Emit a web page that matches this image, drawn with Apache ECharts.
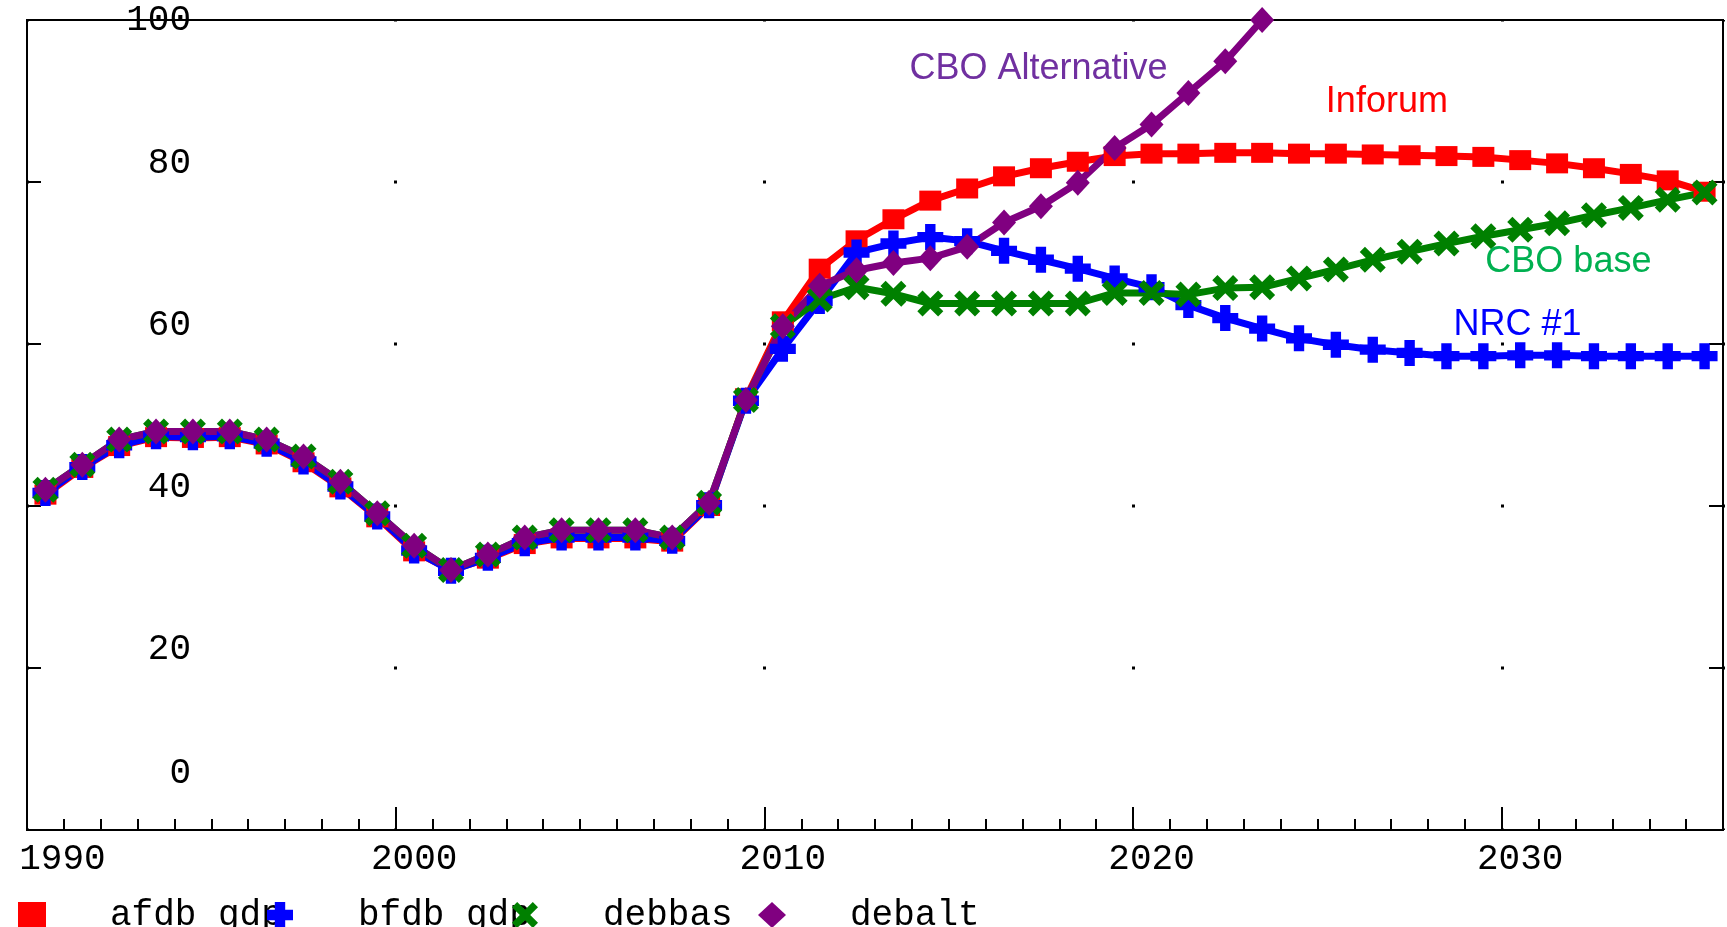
<!DOCTYPE html>
<html>
<head>
<meta charset="utf-8">
<script src="https://cdn.jsdelivr.net/npm/echarts@6/dist/echarts.min.js"></script>
<style>
html,body{margin:0;padding:0;background:#fff;}
#chart{width:1727px;height:927px;}
</style>
</head>
<body>
<div id="chart"></div>
<script>
// ---- data ----
const years = [1990,1991,1992,1993,1994,1995,1996,1997,1998,1999,
               2000,2001,2002,2003,2004,2005,2006,2007,2008,2009,
               2010,2011,2012,2013,2014,2015,2016,2017,2018,2019,
               2020,2021,2022,2023,2024,2025,2026,2027,2028,2029,
               2030,2031,2032,2033,2034,2035];
const yTicks = [0, 20, 40, 60, 80, 100];
const xLabelYears = [1990, 2000, 2010, 2020, 2030];

const afdb_gdp = [41.4,44.7,47.4,48.5,48.4,48.5,47.6,45.4,42.3,38.6,
                  34.4,32.1,33.5,35.3,36.0,36.0,36.0,35.6,40.0,53.3,
                  62.8,69.3,72.8,75.4,77.7,79.2,80.7,81.7,82.5,83.2,
                  83.5,83.5,83.6,83.6,83.5,83.5,83.4,83.3,83.2,83.1,
                  82.7,82.3,81.7,81.0,80.2,78.8];
const bfdb_gdp = [41.6,44.8,47.5,48.6,48.5,48.6,47.7,45.5,42.4,38.7,
                  34.5,32.0,33.6,35.4,36.1,36.1,36.1,35.7,40.1,53.0,
                  59.4,65.3,71.3,72.4,73.2,72.7,71.5,70.4,69.3,68.1,
                  67.0,64.8,63.2,61.9,60.7,59.9,59.3,58.9,58.5,58.5,
                  58.6,58.6,58.5,58.5,58.5,58.5];
const debbas   = [42.0,45.1,48.2,49.2,49.2,49.2,48.2,46.1,43.0,39.1,
                  35.1,32.1,34.0,36.1,37.0,37.0,37.0,36.1,40.4,53.1,
                  62.2,65.5,67.0,66.2,65.0,65.0,65.0,65.0,65.0,66.3,
                  66.3,66.1,66.9,67.0,68.1,69.2,70.4,71.4,72.4,73.3,
                  74.1,74.9,75.9,76.8,77.8,78.7];
const debalt   = [42.0,45.1,48.2,49.2,49.2,49.2,48.2,46.1,43.0,39.1,
                  35.1,32.1,34.0,36.1,37.0,37.0,37.0,36.1,40.4,53.1,
                  62.2,67.2,69.1,70.0,70.6,72.0,75.0,77.0,79.9,84.2,
                  87.1,91.0,94.9,100.0,null,null,null,null,null,null,
                  null,null,null,null,null,null];

const seriesNames = ['afdb_gdp', 'bfdb_gdp', 'debbas', 'debalt'];
const annotationTexts = ['Inforum', 'NRC #1', 'CBO base', 'CBO Alternative'];
const annotationYears = ['2025', '2028', '2029', '2013'];
const annotationValues = [89.9, 62.3, 70.1, 93.95];

// ---- styling ----
const MONO = '"Liberation Mono", "DejaVu Sans Mono", monospace';
const SANS = '"Liberation Sans", Arial, sans-serif';
const colors = ['#ff0000', '#0000ff', '#008000', '#800080'];
const annColors = ['#ff0000', '#0000ff', '#00b050', '#7030a0'];
const annOffsets = [-10, 7, 2, 16];
const PLUS = 'path://M3,0H7V3H10V7H7V10H3V7H0V3H3Z';
const CROSS = 'path://M0,2L2,0L5,3L8,0L10,2L7,5L10,8L8,10L5,7L2,10L0,8L3,5Z';
const symbols = ['rect', PLUS, CROSS, 'diamond'];
const symbolSizes = [[22, 20], [26, 26], [26, 26], [24, 26]];
const seriesData = [afdb_gdp, bfdb_gdp, debbas, debalt];
const legendLefts = [18, 267, 512, 758];

const labelFont = {fontFamily: MONO, fontSize: 36, color: '#000'};

const chart = echarts.init(document.getElementById('chart'), null, {renderer: 'canvas'});

const series = seriesNames.map((name, i) => ({
  name: name,
  type: 'line',
  xAxisIndex: 0,
  yAxisIndex: 0,
  data: seriesData[i],
  symbol: symbols[i],
  symbolSize: symbolSizes[i],
  showAllSymbol: true,
  connectNulls: false,
  silent: true,
  animation: false,
  color: colors[i],
  itemStyle: {color: colors[i]},
  lineStyle: {color: colors[i], width: 7},
  emphasis: {disabled: true},
  markPoint: {
    silent: true,
    animation: false,
    symbol: 'circle',
    symbolSize: 0,
    data: [{
      name: annotationTexts[i],
      coord: [annotationYears[i], annotationValues[i]]
    }],
    label: {
      show: true,
      position: 'right',
      distance: 0,
      offset: [annOffsets[i], 0],
      formatter: '{b}',
      color: annColors[i],
      fontFamily: SANS,
      fontSize: 36,
      align: 'left',
      verticalAlign: 'middle'
    }
  }
}));

const legends = seriesNames.map((name, i) => ({
  show: true,
  data: [{name: name, icon: symbols[i]}],
  left: legendLefts[i],
  top: 897,
  orient: 'horizontal',
  padding: 0,
  itemGap: 0,
  itemWidth: 28,
  itemHeight: 26,
  selectedMode: false,
  textStyle: {fontFamily: MONO, fontSize: 36, color: '#000', padding: [0, 0, 0, 59], lineHeight: 36}
}));

const option = {
  backgroundColor: '#ffffff',
  animation: false,
  legend: legends,
  grid: {
    left: 27, right: 4, top: 20, bottom: 97,
    containLabel: false,
    outerBoundsMode: 'none',
    show: true,
    borderColor: '#000',
    borderWidth: 2,
    backgroundColor: 'transparent'
  },
  xAxis: [
    {
      type: 'category',
      data: years.map(String),
      boundaryGap: true,
      position: 'bottom',
      axisLine: {show: true, lineStyle: {color: '#000', width: 2}},
      axisTick: {show: true, inside: true, length: 11, interval: 0, lineStyle: {color: '#000', width: 2}},
      axisLabel: {
        show: true,
        interval: (idx, val) => xLabelYears.indexOf(Number(val)) >= 0,
        margin: 11,
        formatter: (val, idx) => (idx === 0 ? '{f|' + val + '}' : '{n|' + val + '}'),
        rich: {
          f: Object.assign({padding: [0, 0, 0, 34], lineHeight: 36}, labelFont),
          n: Object.assign({lineHeight: 36}, labelFont)
        }
      },
      splitLine: {
        show: true,
        interval: (idx, val) => xLabelYears.indexOf(Number(val)) >= 0,
        lineStyle: {color: '#000', width: 3, type: [3, 159], dashOffset: 1.5}
      }
    },
    {
      type: 'category',
      data: years.map(String),
      boundaryGap: true,
      position: 'bottom',
      axisLine: {show: false},
      axisLabel: {show: false},
      axisTick: {
        show: true, inside: true, length: 23,
        interval: (idx, val) => xLabelYears.indexOf(Number(val)) >= 0,
        lineStyle: {color: '#000', width: 2}
      },
      splitLine: {
        show: true,
        interval: (idx, val) => Number(val) === 2010,
        lineStyle: {color: '#000', width: 2, type: 'solid'}
      }
    }
  ],
  yAxis: [
    {
      type: 'value',
      min: yTicks[0],
      max: yTicks[yTicks.length - 1],
      interval: 20,
      position: 'left',
      axisLine: {show: true, lineStyle: {color: '#000', width: 2}},
      axisTick: {show: true, inside: true, length: 14, lineStyle: {color: '#000', width: 2}},
      splitLine: {show: false},
      axisLabel: {
        show: true,
        inside: true,
        align: 'right',
        margin: 164,
        formatter: (v) => (v === 100 ? '{h|' + v + '}' : (v === 0 ? '{z|' + v + '}' : '{a|' + v + '}')),
        rich: {
          h: Object.assign({}, labelFont),
          a: Object.assign({padding: [0, 0, 38, 0]}, labelFont),
          z: Object.assign({padding: [0, 0, 114, 0]}, labelFont)
        }
      }
    },
    {
      type: 'value',
      min: yTicks[0],
      max: yTicks[yTicks.length - 1],
      interval: 20,
      position: 'right',
      axisLine: {show: true, lineStyle: {color: '#000', width: 2}},
      axisTick: {show: true, inside: true, length: 14, lineStyle: {color: '#000', width: 2}},
      splitLine: {show: false},
      axisLabel: {show: false}
    }
  ],
  series: series
};

chart.setOption(option);
</script>
</body>
</html>
